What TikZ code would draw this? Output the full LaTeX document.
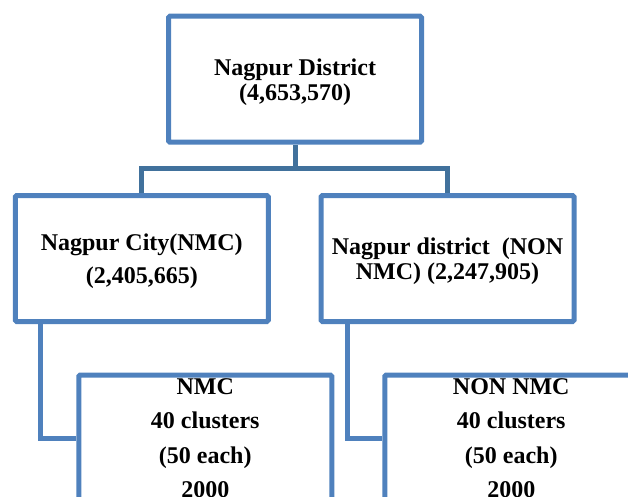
\documentclass[tikz,border=0pt]{standalone}
\usepackage{fontspec}
\setmainfont{Liberation Serif}
\definecolor{boxblue}{HTML}{4F81BD}
\definecolor{connblue}{HTML}{41719C}
\begin{document}
\begin{tikzpicture}[x=1pt,y=-1pt,
  box/.style={draw=boxblue, line width=5pt, minimum width=253pt, minimum height=126pt,
    inner sep=0pt, rounded corners=1.5pt, align=center, text depth=0pt,
    font=\bfseries\fontsize{24}{25}\selectfont},
  topconn/.style={draw=connblue, line width=5pt},
  lowconn/.style={draw=boxblue, line width=5pt},
]
\useasboundingbox (0,0) rectangle (628,497);
\clip (0,0) rectangle (628,497);

\node[box] (top) at (295,79.25) {Nagpur District\\(4,653,570)};
\node[box] (m1) at (141.75,258.5) {Nagpur City(NMC)\\[8pt](2,405,665)};
\node[box] (m2) at (447.5,258.5) {Nagpur district\ \ (NON\\NMC) (2,247,905)};
\node[box] (b1) at (205.25,438) {NMC\\[9.5pt]40 clusters\\[9.5pt](50 each)\\[9.5pt]2000};
\node[box] (b2) at (511.25,438) {NON NMC\\[9.5pt]40 clusters\\[9.5pt](50 each)\\[9.5pt]2000};

\coordinate (j) at (295,168);
\draw[topconn] (top.south) -- (j);
\draw[topconn] (m1.north) |- (j) -| (m2.north);
\draw[lowconn] ([xshift=28pt]m1.south west) |- (b1.west);
\draw[lowconn] ([xshift=28.5pt]m2.south west) |- (b2.west);
\end{tikzpicture}
\end{document}
